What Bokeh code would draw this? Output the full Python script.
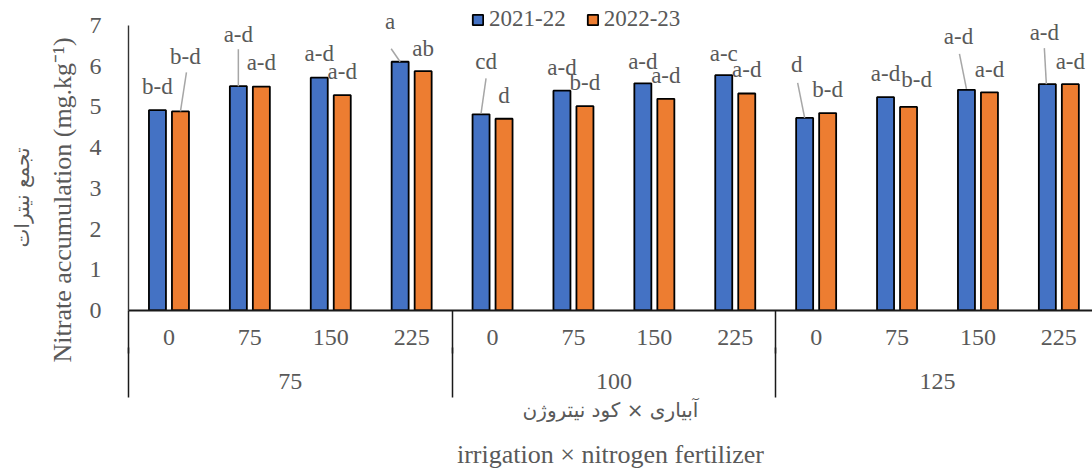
import numpy as np
from bokeh.plotting import figure
from bokeh.models import (Range1d, LinearAxis, FixedTicker, Legend, LegendItem,
                          Title, ColumnDataSource)
from bokeh.embed import file_html
from bokeh.resources import INLINE

# ---------------- data ----------------
irrigation_levels = ["75", "100", "125"]
nitrogen_levels = ["0", "75", "150", "225"]
series_names = ["2021-22", "2022-23"]
values_2021_22 = [4.92, 5.51, 5.72, 6.11, 4.82, 5.40, 5.58, 5.78, 4.73, 5.24, 5.42, 5.56]
values_2022_23 = [4.89, 5.50, 5.29, 5.88, 4.71, 5.02, 5.20, 5.33, 4.85, 5.00, 5.36, 5.56]
letters_2021_22 = ["b-d", "a-d", "a-d", "a", "cd", "a-d", "a-d", "a-c", "d", "a-d", "a-d", "a-d"]
letters_2022_23 = ["b-d", "a-d", "a-d", "ab", "d", "b-d", "a-d", "a-d", "b-d", "b-d", "a-d", "a-d"]
y_ticks = [0, 1, 2, 3, 4, 5, 6, 7]

# ---------------- layout / style ----------------
W, H = 1092, 472
LEFT, BOTTOM = 128, 162
PX_X = 80.9          # pixels per category slot
PX_Y = 40.71         # pixels per y unit
BAR_OFF = 11.5       # px offset of each bar from slot centre
BAR_W = 17           # px
BLUE, ORANGE = "#4472C4", "#ED7D31"
GREY = "#595959"
SERIF = "Liberation Serif"

# label offsets (dx, dy) in px from bar top centre
label_off_1 = [(0, -24), (0, -52), (0, -24), (-10, -40), (5, -53), (0, -23),
               (0, -22), (0, -22), (-8, -53), (0, -24), (-8, -53), (-3, -52)]
label_off_2 = [(5, -55), (0, -24), (0, -24), (0, -23), (0, -23), (0, -24),
               (0, -23), (0, -24), (0, -24), (8, -27), (0, -23), (0, -23)]
leaders_1 = {1: (0, -37, 0, 0), 3: (-9, -13, 0, 0), 4: (5, -36, 0, -1),
             8: (-7, -35, 0, 0), 10: (-7, -36, 0, -1), 11: (-3, -36, -1, 0)}
leaders_2 = {0: (6, -39, 0, 0)}

n_cat = len(irrigation_levels) * len(nitrogen_levels)
x_end = (W - LEFT) / PX_X
y_end = (H - BOTTOM) / PX_Y

p = figure(width=W, height=H, output_backend="svg", toolbar_location=None,
           x_axis_type=None, y_axis_type=None,
           x_range=Range1d(0, x_end), y_range=Range1d(0, y_end),
           min_border_left=LEFT, min_border_right=0, min_border_top=0,
           min_border_bottom=BOTTOM)
p.outline_line_color = None
p.background_fill_color = "white"
p.border_fill_color = "white"

centers = np.arange(n_cat) + 0.5
x1 = centers - BAR_OFF / PX_X
x2 = centers + BAR_OFF / PX_X

src1 = ColumnDataSource(dict(x=x1, top=values_2021_22))
src2 = ColumnDataSource(dict(x=x2, top=values_2022_23))
r1 = p.vbar(x="x", top="top", width=BAR_W / PX_X, source=src1,
            fill_color=BLUE, line_color="black", line_width=1.8)
r2 = p.vbar(x="x", top="top", width=BAR_W / PX_X, source=src2,
            fill_color=ORANGE, line_color="black", line_width=1.8)

# leader lines
def leaders(xs, vals, spec):
    x0, y0, x1_, y1_ = [], [], [], []
    for i, (a, b, c, d) in spec.items():
        x0.append(xs[i] + a / PX_X); y0.append(vals[i] - b / PX_Y)
        x1_.append(xs[i] + c / PX_X); y1_.append(vals[i] - d / PX_Y)
    return dict(x0=x0, y0=y0, x1=x1_, y1=y1_)

for xs, vals, spec in ((x1, values_2021_22, leaders_1), (x2, values_2022_23, leaders_2)):
    p.segment(x0="x0", y0="y0", x1="x1", y1="y1",
              source=ColumnDataSource(leaders(xs, vals, spec)),
              line_color="#A6A6A6", line_width=1.5)

# significance letters
for xs, vals, letters, offs in ((x1, values_2021_22, letters_2021_22, label_off_1),
                                (x2, values_2022_23, letters_2022_23, label_off_2)):
    lx = [xs[i] + offs[i][0] / PX_X for i in range(n_cat)]
    ly = [vals[i] - offs[i][1] / PX_Y for i in range(n_cat)]
    p.text(x=lx, y=ly, text=letters, text_font={"value": SERIF},
           text_font_size="23px", text_color=GREY,
           text_align="center", text_baseline="middle")

# y axis
yax = LinearAxis(ticker=FixedTicker(ticks=y_ticks), bounds=(0, 7))
yax.major_tick_line_color = None
yax.minor_tick_line_color = None
yax.axis_line_color = "#333333"
yax.axis_line_width = 1.4
yax.major_label_text_font = SERIF
yax.major_label_text_font_size = "24px"
yax.major_label_text_color = GREY
yax.major_label_standoff = 21
p.add_layout(yax, "left")

# x axis: nitrogen level labels (minor ticks = group separators)
sub_ticks = [float(v) for v in centers]
sub_labels = {t: nitrogen_levels[i % len(nitrogen_levels)] for i, t in enumerate(sub_ticks)}
group_bounds = [float(i * len(nitrogen_levels)) for i in range(len(irrigation_levels))]
xax1 = LinearAxis(ticker=FixedTicker(ticks=sub_ticks, minor_ticks=group_bounds))
xax1.major_label_overrides = sub_labels
xax1.major_tick_line_color = None
xax1.major_tick_out = 0
xax1.major_tick_in = 0
xax1.minor_tick_in = 0
xax1.minor_tick_out = 43
xax1.minor_tick_line_color = "#1a1a1a"
xax1.minor_tick_line_width = 1.5
xax1.axis_line_color = "#1a1a1a"
xax1.axis_line_width = 1.8
xax1.major_label_text_font = SERIF
xax1.major_label_text_font_size = "24px"
xax1.major_label_text_color = GREY
xax1.major_label_standoff = -24
p.add_layout(xax1, "below")

# x axis: irrigation group labels + Persian axis title
grp_ticks = [float(i * len(nitrogen_levels) + len(nitrogen_levels) / 2) for i in range(len(irrigation_levels))]
grp_labels = {t: irrigation_levels[i] for i, t in enumerate(grp_ticks)}
xax2 = LinearAxis(ticker=FixedTicker(ticks=grp_ticks, minor_ticks=group_bounds))
xax2.major_label_overrides = grp_labels
xax2.major_tick_line_color = None
xax2.major_tick_out = 0
xax2.major_tick_in = 0
xax2.minor_tick_in = 0
xax2.minor_tick_out = 50
xax2.minor_tick_line_color = "#1a1a1a"
xax2.minor_tick_line_width = 1.5
xax2.axis_line_color = None
xax2.major_label_text_font = SERIF
xax2.major_label_text_font_size = "24px"
xax2.major_label_text_color = GREY
xax2.major_label_standoff = -24
xax2.axis_label = "آبیاری × کود نیتروژن"
xax2.axis_label_text_font = "DejaVu Sans"
xax2.axis_label_text_font_size = "20px"
xax2.axis_label_text_font_style = "normal"
xax2.axis_label_text_color = GREY
xax2.axis_label_standoff = 6
p.add_layout(xax2, "below")

# x axis: English axis title only
xax3 = LinearAxis(ticker=FixedTicker(ticks=[]))
xax3.axis_line_color = None
xax3.major_tick_line_color = None
xax3.minor_tick_line_color = None
xax3.major_tick_out = 0
xax3.minor_tick_out = 0
xax3.major_label_standoff = 0
xax3.axis_label = "irrigation × nitrogen fertilizer"
xax3.axis_label_text_font = SERIF
xax3.axis_label_text_font_size = "26px"
xax3.axis_label_text_font_style = "normal"
xax3.axis_label_text_color = GREY
xax3.axis_label_standoff = 15
p.add_layout(xax3, "below")

# y axis titles
p.add_layout(Title(text="Nitrate accumulation (mg.kg⁻¹)", align="left", offset=-52,
                   standoff=20, text_font=SERIF, text_font_size="26px",
                   text_font_style="normal", text_color=GREY), "left")
p.add_layout(Title(text="تجمع نیترات", align="left", offset=63, standoff=3,
                   text_font="DejaVu Sans", text_font_size="20px",
                   text_font_style="normal", text_color=GREY), "left")

# legend
legend = Legend(items=[LegendItem(label=series_names[0], renderers=[r1]),
                       LegendItem(label=series_names[1], renderers=[r2])],
                orientation="horizontal", location=(343, 278),
                glyph_width=13, glyph_height=13, label_standoff=5, spacing=20,
                padding=0, margin=0, border_line_color=None, background_fill_alpha=0,
                label_text_font=SERIF, label_text_font_size="23px", label_text_color=GREY)
p.add_layout(legend)

open("out.html", "w").write(file_html(p, INLINE))
